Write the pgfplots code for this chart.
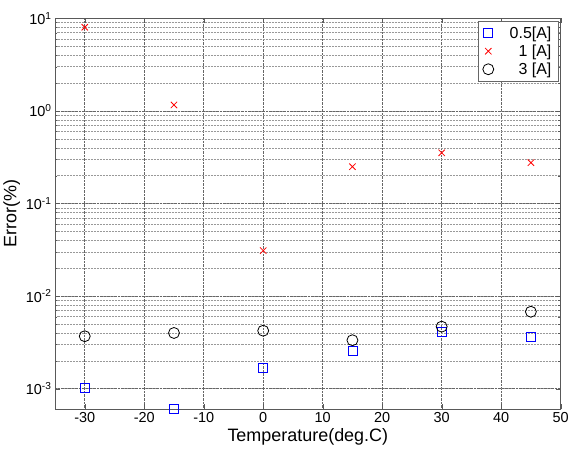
\documentclass[border=0pt]{standalone}
\usepackage{fontspec}
\setmainfont{Liberation Sans}
\usepackage{pgfplots}
\pgfplotsset{compat=1.18}

\begin{document}
\begin{tikzpicture}
  \begin{axis}[
    scale only axis,
    width=507pt, height=392pt,
    ymode=log,
    xmin=-35, xmax=50,
    ymin=6e-4, ymax=10,
    xtick={-30,-20,...,50},
    ytick={1e-3,1e-2,1e-1,1,10},
    yticklabels={10\textsuperscript{-3},10\textsuperscript{-2},10\textsuperscript{-1},10\textsuperscript{0},10\textsuperscript{1}},
    /pgf/number format/assume math mode=true,
    tick label style={font=\fontsize{14.5}{17}\selectfont},
    xlabel={Temperature(deg.C)},
    ylabel={Error(\%)},
    label style={font=\fontsize{18}{21}\selectfont},
    xlabel style={yshift=1pt},
    ylabel style={yshift=-1pt},
    title={\phantom{X}},
    title style={font=\fontsize{8}{9}\selectfont},
    xmajorgrids, ymajorgrids, yminorgrids,
    grid style={densely dotted, black!60, line width=0.5pt},
    minor grid style={densely dotted, black!40, line width=0.5pt},
    axis line style={black!65},
    tick style={black!65},
    major tick length=5pt, minor tick length=2.5pt,
    tick align=inside,
    clip=false,
    legend style={at={(0.996,0.992)}, anchor=north east, draw=black!60,
      font=\fontsize{16}{19}\selectfont, row sep=1pt,
      inner xsep=5pt, inner ysep=3pt},
    legend cell align=right,
    /tikz/every odd column/.append style={column sep=14pt},
  ]
    \addplot[only marks, mark=square, mark size=4.5pt, blue, thick] coordinates {
      (-30,0.00103) (-15,0.00061) (0,0.00166) (15,0.00257) (30,0.00413) (45,0.00366)
    };
    \addplot[only marks, mark=x, mark size=4.5pt, red, thick] coordinates {
      (-30,8.0) (-15,1.16) (0,0.031) (15,0.25) (30,0.353) (45,0.276)
    };
    \addplot[only marks, mark=o, mark size=5.5pt, black, thick] coordinates {
      (-30,0.00369) (-15,0.0040) (0,0.00423) (15,0.00334) (30,0.00468) (45,0.00678)
    };
    \legend{0.5[A],1 [A],3 [A]}
  \end{axis}
\end{tikzpicture}
\end{document}
